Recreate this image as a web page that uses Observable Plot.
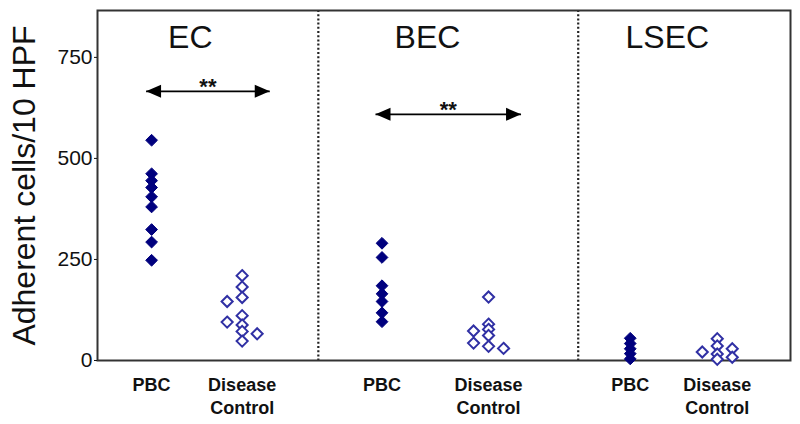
<!DOCTYPE html>
<html>
<head>
<meta charset="utf-8">
<script src="https://cdn.jsdelivr.net/npm/d3@7"></script>
<script src="https://cdn.jsdelivr.net/npm/@observablehq/plot@0.6"></script>
<style>
  body { margin: 0; background: #fff; }
</style>
</head>
<body>
<div id="chart"></div>
<script>
// ---- data ----
const panels = ["EC", "BEC", "LSEC"];
const groups = ["PBC", "Disease Control"];
const groupLabels = ["PBC", "Disease\nControl"];
const ecPbc = [545, 462, 445, 428, 405, 380, 324, 293, 248];
const ecDc = [210, 182, 156, 146, 111, 88, 95, 72, 66, 48];
const becPbc = [290, 255, 185, 165, 146, 118, 96];
const becDc = [157, 90, 77, 73, 62, 35, 43, 30];
const lsecPbc = [55, 42, 29, 17, 4];
const lsecDc = [54, 36, 16, 3, 21, 29, 8];
const yTicks = [0, 250, 500, 750];
const yLabel = "Adherent cells/10 HPF";
const sigPanels = ["EC", "BEC"];
const sigLevels = [666, 609];
const sigLabels = ["**", "**"];

// ---- layout (scale-space widths of the panels and positions inside them) ----
const panelWidths = [0.956, 1.125, 0.919];
const panelStart = panelWidths.map((w, i) => d3.sum(panelWidths.slice(0, i)));
const slotInPanel = {"PBC": 0.245, "Disease Control": 0.655};
const titleInPanel = 0.42;
const arrowFrom = 0.22, arrowTo = 0.78;
const pIdx = p => panels.indexOf(p);
const inPanel = (panel, f) => panelStart[pIdx(panel)] + f * panelWidths[pIdx(panel)];
const xOf = (panel, group) => inPanel(panel, slotInPanel[group]);

// deterministic dodge: put a point beside the column when it would overlap
function dodge(values, near = 12, side = 30) {
  const placed = {"-1": [], "0": [], "1": []};
  return values.map(v => {
    let chosen = null, fallback = 0, bestGap = -1;
    for (const s of [0, -1, 1]) {
      const th = s === 0 ? near : side;
      const gap = placed[s].length ? d3.min(placed[s], p => Math.abs(p - v)) : Infinity;
      if (gap >= th) { chosen = s; break; }
      if (gap > bestGap) { bestGap = gap; fallback = s; }
    }
    if (chosen === null) chosen = fallback;
    placed[chosen].push(v);
    return chosen;
  });
}

const series = [
  ["EC", "PBC", ecPbc], ["EC", "Disease Control", ecDc],
  ["BEC", "PBC", becPbc], ["BEC", "Disease Control", becDc],
  ["LSEC", "PBC", lsecPbc], ["LSEC", "Disease Control", lsecDc]
];
const rows = series.flatMap(([panel, group, values]) => {
  const slots = dodge(values);
  return values.map((value, i) => ({panel, group, value, slot: slots[i], x: xOf(panel, group)}));
});

const sig = sigPanels.map((panel, i) => ({panel, y: sigLevels[i], label: sigLabels[i]}));

const tickPos = panels.flatMap(p => groups.map(g => xOf(p, g)));
const tickText = new Map(panels.flatMap(p => groups.map((g, j) => [xOf(p, g), groupLabels[j]])));

const arrowHead = {
  draw(ctx) {
    ctx.moveTo(0, 0);
    ctx.lineTo(-15, -6.5);
    ctx.lineTo(-15, 6.5);
    ctx.closePath();
  }
};

const navy = "#00007e";
const openBlue = "#3030a4";
const offset = 15;

const dotMarks = [];
for (const s of [-1, 0, 1]) {
  dotMarks.push(Plot.dot(rows.filter(d => d.slot === s && d.group === "Disease Control"), {
    x: "x", y: "value", symbol: "diamond2", r: 5.0, fill: "white", stroke: openBlue, strokeWidth: 2, dx: s * offset
  }));
  dotMarks.push(Plot.dot(rows.filter(d => d.slot === s && d.group === "PBC"), {
    x: "x", y: "value", symbol: "diamond2", r: 5.3, fill: navy, stroke: navy, strokeWidth: 1, dx: s * offset
  }));
}

const chart = Plot.plot({
  width: 800,
  height: 424,
  marginLeft: 97,
  marginRight: 10,
  marginTop: 10,
  marginBottom: 64,
  style: {fontFamily: "'Liberation Sans', Arial, Helvetica, sans-serif", fontSize: "21px", color: "#111", background: "white"},
  x: {domain: [0, d3.sum(panelWidths)]},
  y: {domain: [0, 866]},
  marks: [
    Plot.ruleX(panelStart.slice(1), {stroke: "#222", strokeWidth: 2.2, strokeDasharray: "2,2.2"}),
    Plot.frame({stroke: "#333", strokeWidth: 2}),
    Plot.axisY({ticks: yTicks, tickSize: 3, tickPadding: 2, fontSize: 21, label: null}),
    Plot.axisX({ticks: tickPos, tickFormat: d => tickText.get(d), tickSize: 0, tickPadding: 15, fontSize: 18, lineHeight: 1.25, fontWeight: "bold", label: null}),
    Plot.text(panels, {x: d => inPanel(d, titleInPanel), text: d => d, frameAnchor: "top", dy: 15, fontSize: 32}),
    Plot.text([yLabel], {frameAnchor: "left", text: d => d, rotate: -90, dx: -73, fontSize: 32, textAnchor: "middle", lineAnchor: "middle"}),
    Plot.link(sig, {
      x1: d => inPanel(d.panel, arrowFrom), x2: d => inPanel(d.panel, arrowTo),
      y1: "y", y2: "y", stroke: "black", strokeWidth: 1.6
    }),
    Plot.dot(sig, {x: d => inPanel(d.panel, arrowTo), y: "y", symbol: arrowHead, fill: "black", stroke: "none"}),
    Plot.dot(sig, {x: d => inPanel(d.panel, arrowFrom), y: "y", symbol: arrowHead, rotate: 180, fill: "black", stroke: "none"}),
    Plot.text(sig, {x: d => inPanel(d.panel, (arrowFrom + arrowTo) / 2), y: "y", text: "label", fontSize: 22, fontWeight: "bold", dy: -4}),
    ...dotMarks
  ]
});
document.getElementById("chart").append(chart);
</script>
</body>
</html>
